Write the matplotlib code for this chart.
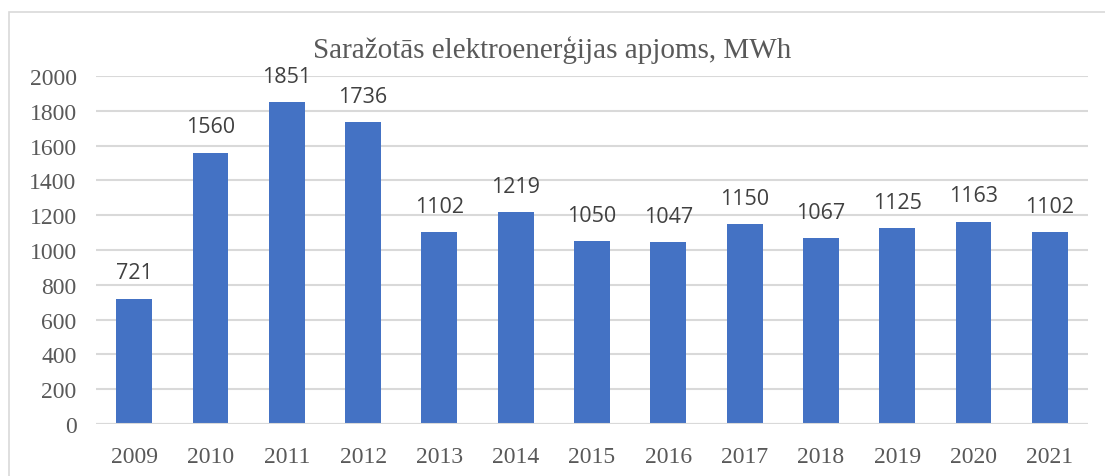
import matplotlib.pyplot as plt
from matplotlib.patches import Rectangle

gadi = ["2009", "2010", "2011", "2012", "2013", "2014", "2015",
        "2016", "2017", "2018", "2019", "2020", "2021"]
apjoms = [721, 1560, 1851, 1736, 1102, 1219, 1050, 1047, 1150, 1067, 1125, 1163, 1102]

fig = plt.figure(figsize=(11.05, 4.77), dpi=100)
ax = fig.add_axes([96 / 1105, 1 - 425 / 477, 992 / 1105, 348 / 477])

# rāmis ap diagrammu
fig.patches.append(Rectangle((9 / 1105, -0.01), 1.1, 1 - 13 / 477 + 0.01,
                             transform=fig.transFigure, fill=False,
                             edgecolor="#d9d9d9", linewidth=1.2))

x = range(len(gadi))
stabi = ax.bar(x, apjoms, width=0.47, color="#4472C4", zorder=2)
for bar, v in zip(stabi, apjoms):
    ax.annotate(str(v), (bar.get_x() + bar.get_width() / 2, v),
                xytext=(0, 11), textcoords="offset points",
                ha="center", va="bottom", fontsize=15.5,
                family="Open Sans", color="#404040")

ax.set_xlim(-0.5, len(gadi) - 0.5)
ax.set_ylim(0, 2000)
ax.set_yticks(range(0, 2001, 200))
ax.set_xticks(list(x))
ax.set_xticklabels(gadi)
ax.yaxis.grid(True, color="#d9d9d9", linewidth=1.5, zorder=1)
ax.axhline(0, color="#d9d9d9", linewidth=1.5, zorder=3)
ax.set_axisbelow(True)
for s in ax.spines.values():
    s.set_visible(False)
ax.tick_params(length=0, labelsize=17, labelcolor="#595959")
ax.tick_params(axis="x", pad=16)
ax.tick_params(axis="y", pad=14)
for lab in ax.get_xticklabels() + ax.get_yticklabels():
    lab.set_family("Liberation Serif")

fig.text(0.5, 1 - 50 / 477, "Saražotās elektroenerģijas apjoms, MWh",
         ha="center", va="center", fontsize=21, family="Liberation Serif",
         color="#595959")

fig.savefig("out.png", dpi=100)
